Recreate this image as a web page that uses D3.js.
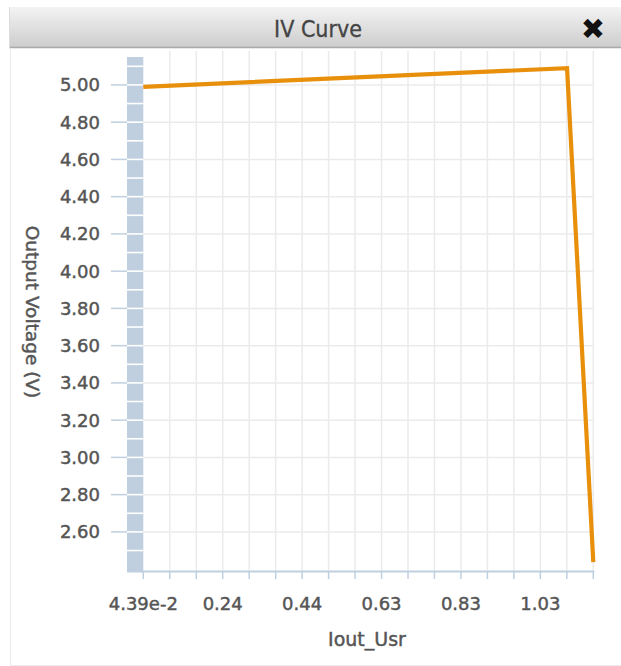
<!DOCTYPE html>
<html>
<head>
<meta charset="utf-8">
<script src="https://cdn.jsdelivr.net/npm/d3@7"></script>
<style>
html,body{margin:0;padding:0;background:#fff;}
svg{display:block;}
text{font-family:"DejaVu Sans",sans-serif;}
.lbl{fill:#555;stroke:#555;stroke-width:0.45px;}
</style>
</head>
<body>
<svg id="chart" width="621" height="666"></svg>
<script>
// ---- data ----
const iout = [0.0439, 1.093, 1.158];
const vout = [4.99, 5.09, 2.438];
const xDomain = [0.0439, 1.158];
const yDomain = [2.39, 5.15];
const xTickLabels = ["4.39e-2", "0.24", "0.44", "0.63", "0.83", "1.03"];
const yTickValues = [2.6, 2.8, 3.0, 3.2, 3.4, 3.6, 3.8, 4.0, 4.2, 4.4, 4.6, 4.8, 5.0];
const title = "IV Curve";
const xLabel = "Iout_Usr";
const yLabel = "Output Voltage (V)";

const svg = d3.select("#chart");
const W = 621, H = 666;
const pLeft = 143.3, pRight = 593.3, pTop = 57, pBottom = 571;

// frame
const defs = svg.append("defs");
const grad = defs.append("linearGradient").attr("id","tb").attr("x1",0).attr("x2",0).attr("y1",0).attr("y2",1);
grad.append("stop").attr("offset","0%").attr("stop-color","#f3f3f3");
grad.append("stop").attr("offset","100%").attr("stop-color","#cdcdcd");
svg.append("rect").attr("x",9).attr("y",7).attr("width",W-9).attr("height",40).attr("fill","url(#tb)");
svg.append("line").attr("x1",9).attr("x2",W).attr("y1",47.5).attr("y2",47.5).attr("stroke","#a9a9a9").attr("stroke-width",1.5);
svg.append("line").attr("x1",9.5).attr("x2",9.5).attr("y1",7).attr("y2",48).attr("stroke","#dcdcdc");
svg.append("line").attr("x1",10.5).attr("x2",10.5).attr("y1",48).attr("y2",665).attr("stroke","#ececec");
svg.append("line").attr("x1",10).attr("x2",W).attr("y1",665.5).attr("y2",665.5).attr("stroke","#ececec");
svg.append("text").attr("x",318).attr("y",37).attr("text-anchor","middle")
  .style("font-family","'DejaVu Sans Condensed','DejaVu Sans',sans-serif")
  .attr("font-size",23).attr("fill","#444").attr("stroke","#444").attr("stroke-width",0.3).text(title);
svg.append("text").attr("x",593).attr("y",39).attr("text-anchor","middle")
  .attr("font-size",29).attr("fill","#111").text("✖");

// scales
const x = d3.scaleLinear().domain(xDomain).range([pLeft, pRight]);
const y = d3.scaleLinear().domain(yDomain).range([pBottom, pTop]);

const nx = 17;
const xGrid = d3.range(nx + 1).map(i => xDomain[0] + i * (xDomain[1] - xDomain[0]) / nx);

// grid
const g = svg.append("g");
g.selectAll(".vg").data(xGrid.slice(1)).join("line")
  .attr("x1", d => x(d)).attr("x2", d => x(d)).attr("y1", 51).attr("y2", pBottom)
  .attr("stroke", "#ebebeb").attr("stroke-width", 1.5);
g.selectAll(".hg").data(yTickValues).join("line")
  .attr("x1", pLeft).attr("x2", pRight).attr("y1", d => y(d)).attr("y2", d => y(d))
  .attr("stroke", "#ebebeb").attr("stroke-width", 1.5);

// y axis bar
const barColor = "#bfcfdf";
svg.append("rect").attr("x",127).attr("y",pTop).attr("width",pLeft-127).attr("height",pBottom-pTop).attr("fill",barColor);
const minor = d3.range(25, 52).map(v => v / 10);
svg.selectAll(".sep").data(minor).join("line")
  .attr("x1",127).attr("x2",pLeft).attr("y1", d => y(d)).attr("y2", d => y(d))
  .attr("stroke","#fff").attr("stroke-width",1.6);
svg.selectAll(".ytk").data(yTickValues).join("line")
  .attr("x1",111).attr("x2",127).attr("y1", d => y(d)).attr("y2", d => y(d))
  .attr("stroke",barColor).attr("stroke-width",1.5);
svg.selectAll(".ytl").data(yTickValues).join("text")
  .attr("class","lbl")
  .attr("x",100).attr("y", d => y(d) + 6.5).attr("text-anchor","end")
  .attr("font-size",18)
  .text(d => d.toFixed(2));

// x axis
svg.append("line").attr("x1",127).attr("x2",pRight+1).attr("y1",pBottom+0.5).attr("y2",pBottom+0.5)
  .attr("stroke",barColor).attr("stroke-width",2);
svg.selectAll(".xtk").data(xGrid).join("line")
  .attr("x1", d => x(d)).attr("x2", d => x(d)).attr("y1", pBottom).attr("y2", pBottom + 8)
  .attr("stroke",barColor).attr("stroke-width",1.5);
svg.selectAll(".xtl").data(xTickLabels).join("text")
  .attr("class","lbl")
  .attr("x", (d, i) => x(xGrid[i * 3])).attr("y", 610).attr("text-anchor","middle")
  .attr("font-size",18)
  .text(d => d);

// axis titles
svg.append("text").attr("class","lbl").attr("x",367).attr("y",646).attr("text-anchor","middle")
  .attr("font-size",19).text(xLabel);
svg.append("text").attr("class","lbl").attr("transform","translate(26,312) rotate(90)").attr("text-anchor","middle")
  .attr("font-size",18.5).text(yLabel);

// line
const pts = iout.map((v, i) => [v, vout[i]]);
svg.append("path").datum(pts)
  .attr("d", d3.line().x(d => x(d[0])).y(d => y(d[1])))
  .attr("fill","none").attr("stroke","#e8900c").attr("stroke-width",4.2)
  .attr("stroke-linejoin","miter");
</script>
</body>
</html>
